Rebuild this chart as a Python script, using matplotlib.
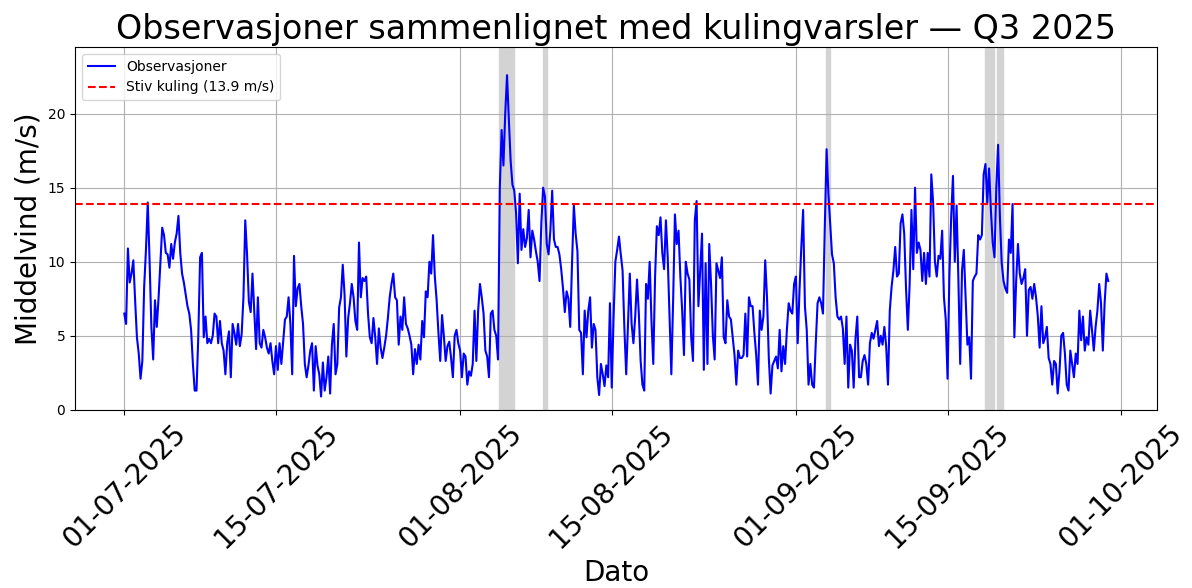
import pandas as pd
import matplotlib
matplotlib.use("Agg")
import matplotlib.pyplot as plt
import matplotlib.dates as mdates

# observed mean wind (m/s), 4-hourly, one row per day from 2025-07-01
DAILY_WIND = [
    [6.5, 5.8, 10.9, 8.6, 9.2, 10.1],
    [7.4, 4.9, 3.8, 2.1, 3.3, 8.3],
    [10.8, 14.0, 10.1, 5.6, 3.4, 7.4],
    [5.6, 7.6, 9.9, 12.3, 11.8, 10.6],
    [10.5, 9.6, 11.2, 10.2, 11.3, 11.9],
    [13.1, 10.6, 9.2, 8.6, 7.8, 7.0],
    [6.5, 5.4, 3.1, 1.3, 1.3, 5.0],
    [10.3, 10.6, 4.9, 6.3, 4.5, 4.8],
    [4.5, 5.0, 6.5, 6.3, 4.5, 6.0],
    [4.5, 4.0, 2.4, 4.5, 5.3, 2.2],
    [5.8, 5.2, 4.4, 5.8, 4.3, 5.1],
    [7.6, 12.8, 10.5, 7.3, 6.6, 9.2],
    [6.7, 4.1, 7.6, 4.5, 4.2, 5.4],
    [4.9, 4.2, 3.8, 4.5, 3.3, 2.4],
    [4.3, 2.7, 4.5, 3.1, 4.6, 6.1],
    [6.3, 7.6, 5.8, 2.4, 10.4, 7.0],
    [8.2, 8.5, 7.0, 5.8, 3.1, 2.2],
    [3.0, 4.0, 4.5, 1.3, 4.3, 3.0],
    [2.4, 0.9, 3.2, 1.3, 2.2, 3.6],
    [1.1, 4.4, 5.8, 2.4, 3.1, 6.9],
    [7.6, 9.8, 7.8, 3.6, 6.2, 7.2],
    [8.5, 7.6, 6.0, 5.4, 11.3, 7.6],
    [8.9, 8.7, 9.0, 6.5, 4.9, 4.5],
    [6.2, 4.9, 3.1, 5.5, 4.2, 3.5],
    [4.2, 5.0, 6.2, 7.6, 8.5, 9.2],
    [7.6, 7.4, 4.4, 6.3, 5.4, 7.6],
    [5.8, 5.5, 5.0, 4.4, 2.4, 4.1],
    [3.1, 4.4, 3.4, 6.0, 4.9, 8.0],
    [7.6, 10.0, 9.2, 11.8, 9.0, 7.4],
    [5.2, 3.3, 6.4, 5.0, 3.3, 4.3],
    [4.6, 3.5, 2.2, 5.0, 5.4, 4.5],
    [4.0, 2.2, 3.8, 3.6, 1.7, 2.6],
    [2.3, 3.1, 6.7, 3.3, 6.7, 8.5],
    [7.6, 6.5, 4.0, 3.6, 2.2, 6.5],
    [6.7, 5.4, 5.0, 3.4, 15.0, 18.9],
    [16.5, 20.0, 22.6, 19.6, 16.8, 15.2],
    [14.8, 13.3, 9.9, 14.6, 10.8, 12.2],
    [11.0, 11.6, 13.5, 10.3, 12.1, 11.5],
    [10.7, 10.0, 8.7, 12.6, 15.0, 14.4],
    [11.2, 10.5, 12.1, 14.8, 11.5, 11.0],
    [11.0, 10.5, 9.5, 8.2, 6.6, 8.0],
    [7.5, 5.6, 9.9, 13.8, 11.9, 10.7],
    [5.4, 5.2, 2.4, 6.7, 4.9, 6.7],
    [7.6, 4.2, 5.8, 5.4, 2.2, 1.0],
    [3.1, 2.4, 1.6, 3.0, 2.2, 7.2],
    [1.5, 6.2, 10.0, 10.8, 11.7, 10.5],
    [9.4, 5.5, 2.4, 5.9, 9.2, 5.8],
    [4.5, 6.3, 8.8, 6.5, 3.3, 1.7],
    [1.3, 8.5, 7.5, 10.0, 6.0, 3.1],
    [9.0, 12.4, 11.8, 13.0, 10.6, 9.5],
    [12.8, 10.3, 6.3, 2.4, 7.4, 13.2],
    [11.2, 12.1, 9.0, 6.7, 3.7, 10.0],
    [9.2, 8.8, 4.9, 3.3, 12.8, 14.1],
    [7.0, 9.4, 11.9, 2.7, 9.9, 3.1],
    [11.2, 8.5, 5.0, 3.4, 9.9, 9.4],
    [8.9, 10.3, 4.9, 4.5, 7.4, 6.3],
    [6.1, 4.9, 3.7, 1.7, 4.0, 3.5],
    [3.5, 3.7, 6.5, 3.6, 7.6, 7.0],
    [7.0, 5.2, 3.7, 1.7, 6.7, 5.4],
    [6.3, 10.1, 7.6, 3.5, 1.1, 3.0],
    [3.3, 3.6, 2.8, 5.4, 2.6, 4.3],
    [3.1, 5.4, 7.2, 6.7, 6.5, 8.5],
    [9.0, 4.5, 8.1, 11.0, 13.5, 7.0],
    [5.4, 1.7, 3.1, 1.7, 1.5, 4.5],
    [7.2, 7.6, 7.2, 6.5, 12.3, 17.6],
    [14.6, 12.6, 10.5, 9.9, 7.6, 6.3],
    [6.1, 6.3, 5.5, 3.1, 6.3, 1.5],
    [4.4, 4.0, 1.5, 4.8, 6.3, 2.2],
    [2.2, 3.3, 3.7, 3.1, 1.7, 4.5],
    [5.2, 4.8, 5.4, 6.0, 4.3, 5.0],
    [4.4, 5.6, 4.3, 1.7, 6.7, 8.3],
    [9.4, 11.0, 9.0, 9.2, 12.6, 13.2],
    [11.9, 8.2, 5.4, 8.5, 13.5, 9.5],
    [15.0, 10.6, 11.3, 10.8, 8.7, 10.6],
    [8.5, 10.6, 9.0, 15.9, 14.0, 10.0],
    [9.0, 10.4, 10.2, 12.1, 7.6, 6.1],
    [2.1, 9.0, 13.0, 15.8, 10.0, 13.8],
    [8.8, 3.1, 9.4, 10.8, 7.6, 4.4],
    [4.9, 2.1, 8.7, 9.0, 9.2, 11.8],
    [11.5, 11.8, 15.9, 16.6, 14.0, 16.3],
    [13.5, 11.3, 10.3, 15.0, 17.9, 13.0],
    [9.9, 8.7, 8.2, 7.9, 11.5, 10.6],
    [13.9, 4.9, 8.7, 11.2, 9.2, 8.5],
    [8.9, 9.5, 5.0, 8.1, 8.3, 7.5],
    [8.5, 7.6, 6.3, 4.2, 7.0, 4.5],
    [4.9, 5.6, 3.5, 3.1, 1.7, 3.3],
    [3.1, 1.1, 2.6, 5.0, 5.2, 3.8],
    [1.7, 1.3, 4.0, 3.1, 2.2, 3.8],
    [3.1, 6.7, 4.7, 6.3, 4.0, 4.9],
    [4.4, 6.7, 5.4, 4.0, 5.6, 6.7],
    [8.5, 7.2, 4.0, 7.2, 9.2, 8.7],
]

# gale warning periods (start, end)
WARN_START = ["2025-08-04 15:00", "2025-08-08 16:00", "2025-09-03 18:00",
              "2025-09-18 12:00", "2025-09-19 14:00"]
WARN_END = ["2025-08-06 00:00", "2025-08-09 00:00", "2025-09-04 04:00",
            "2025-09-19 08:00", "2025-09-20 02:00"]

STIV_KULING = 13.9

wind = [v for day in DAILY_WIND for v in day]
times = pd.date_range("2025-07-01", periods=len(wind), freq="4h")

fig = plt.figure(figsize=(11.92, 5.88), dpi=100)
ax = fig.add_axes([0.063, 0.303, 0.908, 0.617])

for start, end in zip(WARN_START, WARN_END):
    ax.axvspan(pd.Timestamp(start), pd.Timestamp(end), color="lightgray")

ax.plot(times, wind, color="blue", linewidth=1.5, label="Observasjoner")
ax.axhline(STIV_KULING, color="red", linestyle="--", linewidth=1.5,
           label=f"Stiv kuling ({STIV_KULING} m/s)")

ax.set_ylim(0, 24.5)
ax.xaxis.set_major_locator(mdates.DayLocator(bymonthday=[1, 15]))
ax.xaxis.set_major_formatter(mdates.DateFormatter("%d-%m-%Y"))
plt.setp(ax.get_xticklabels(), rotation=45, fontsize=20)

ax.set_title("Observasjoner sammenlignet med kulingvarsler \u2014 Q3 2025", fontsize=24)
ax.set_xlabel("Dato", fontsize=20)
ax.set_ylabel("Middelvind (m/s)", fontsize=20)
ax.grid(True)
ax.legend(loc="upper left")

fig.savefig("out.png", dpi=100)
